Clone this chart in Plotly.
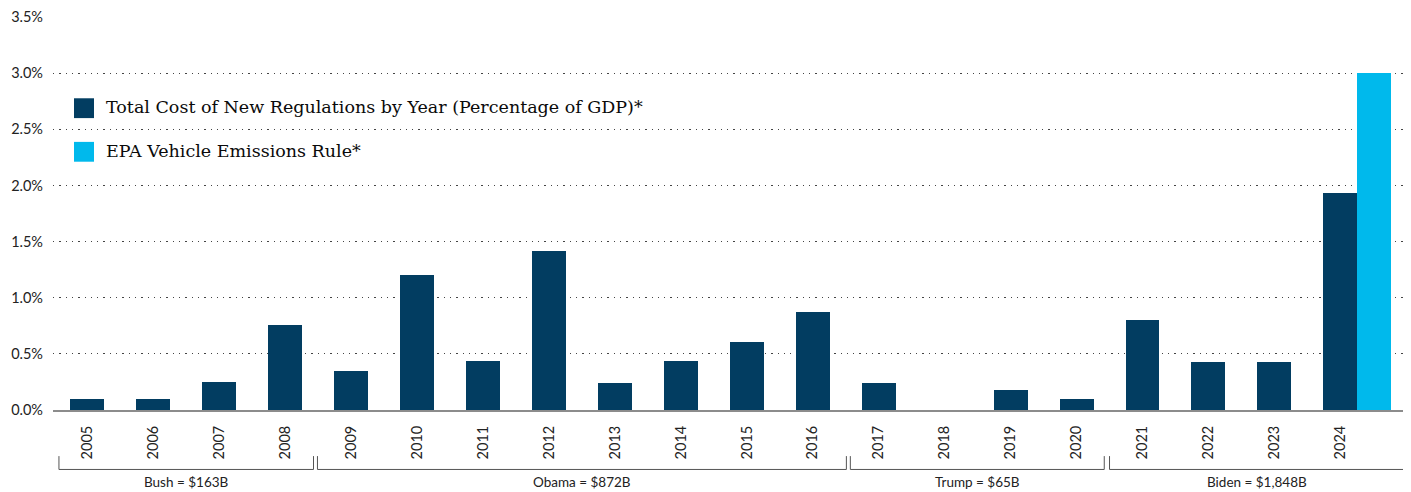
import plotly.graph_objects as go

years = ["2005", "2006", "2007", "2008", "2009", "2010", "2011", "2012", "2013", "2014",
         "2015", "2016", "2017", "2018", "2019", "2020", "2021", "2022", "2023", "2024"]
total_cost_pct = [0.10, 0.10, 0.25, 0.76, 0.35, 1.20, 0.44, 1.42, 0.24, 0.44,
                  0.61, 0.87, 0.24, 0.0, 0.18, 0.10, 0.80, 0.43, 0.43, 1.93]
epa_years = ["2024"]
epa_pct = [3.0]
series_names = ["Total Cost of New Regulations by Year (Percentage of GDP)*",
                "EPA Vehicle Emissions Rule*"]
y_ticks = [0, 0.5, 1.0, 1.5, 2.0, 2.5, 3.0, 3.5]
y_tick_labels = ["0.0%", "0.5%", "1.0%", "1.5%", "2.0%", "2.5%", "3.0%", "3.5%"]
admin_labels = ["Bush = $163B", "Obama = $872B", "Trump = $65B", "Biden = $1,848B"]

# layout (bracket extents in category-index units)
bracket_spans = [(-0.43, 3.43), (3.49, 11.51), (11.57, 15.42), (15.5, 19.97)]

NAVY = "#023d61"
CYAN = "#00b9ec"
BW = 0.515

fig = go.Figure()
fig.add_trace(go.Bar(x=years, y=total_cost_pct, name=series_names[0],
                     marker=dict(color=NAVY, line=dict(width=0)),
                     width=BW, offset=-BW / 2))
fig.add_trace(go.Bar(x=epa_years, y=epa_pct, name=series_names[1],
                     marker=dict(color=CYAN, line=dict(width=0)),
                     width=BW, offset=BW / 2))

sans = "Lato, 'Open Sans', sans-serif"
serif = "'DejaVu Serif', serif"

shapes = []
annotations = []
y_top, y_bot, y_lab = -0.1173, -0.1513, -0.183
for (x0, x1), lab in zip(bracket_spans, admin_labels):
    shapes.append(dict(type="path", xref="x", yref="paper",
                       path=f"M {x0},{y_top} L {x0},{y_bot} L {x1},{y_bot} L {x1},{y_top}",
                       line=dict(color="#555555", width=1)))
    annotations.append(dict(x=(x0 + x1) / 2, y=y_lab, xref="x", yref="paper",
                            text=lab, showarrow=False, xanchor="center", yanchor="middle",
                            font=dict(family=sans, size=13.5, color="#222222")))

# custom legend
leg_items = [(series_names[0], NAVY, 96), (series_names[1], CYAN, 140)]
for name, col, ytop in leg_items:
    shapes.append(dict(type="rect", xref="paper", yref="paper",
                       x0=(74 - 53) / 1350, x1=(94 - 53) / 1350,
                       y0=(410.5 - ytop) / 396.5, y1=(410.5 - ytop - 20) / 396.5,
                       fillcolor=col, line=dict(width=0), layer="above"))
    annotations.append(dict(x=(104 - 53) / 1350, y=(410.5 - ytop - 9) / 396.5,
                            xref="paper", yref="paper", text=name, showarrow=False,
                            xanchor="left", yanchor="middle",
                            font=dict(family=serif, size=17.5, color="#0a0a0a")))

fig.update_layout(
    width=1411, height=492,
    margin=dict(l=53, r=8, t=14, b=81.5),
    paper_bgcolor="white", plot_bgcolor="white",
    barmode="overlay", bargap=0,
    showlegend=False,
    shapes=shapes, annotations=annotations,
    xaxis=dict(type="category", range=[-0.52, 19.95], tickangle=-90,
               showgrid=False, showline=True, linecolor="#8c8c8c", linewidth=2,
               ticks="", ticklabelstandoff=8,
               tickfont=dict(family=sans, size=14.5, color="#222222")),
    yaxis=dict(range=[0, 3.5], tickvals=y_ticks, ticktext=y_tick_labels,
               showgrid=True, gridcolor="#444444", gridwidth=1.3, griddash="1.3px,5px",
               zeroline=False, showline=False, ticks="", ticklabelstandoff=9,
               tickfont=dict(family=sans, size=14.5, color="#222222")),
)

fig.write_html("out.html")
